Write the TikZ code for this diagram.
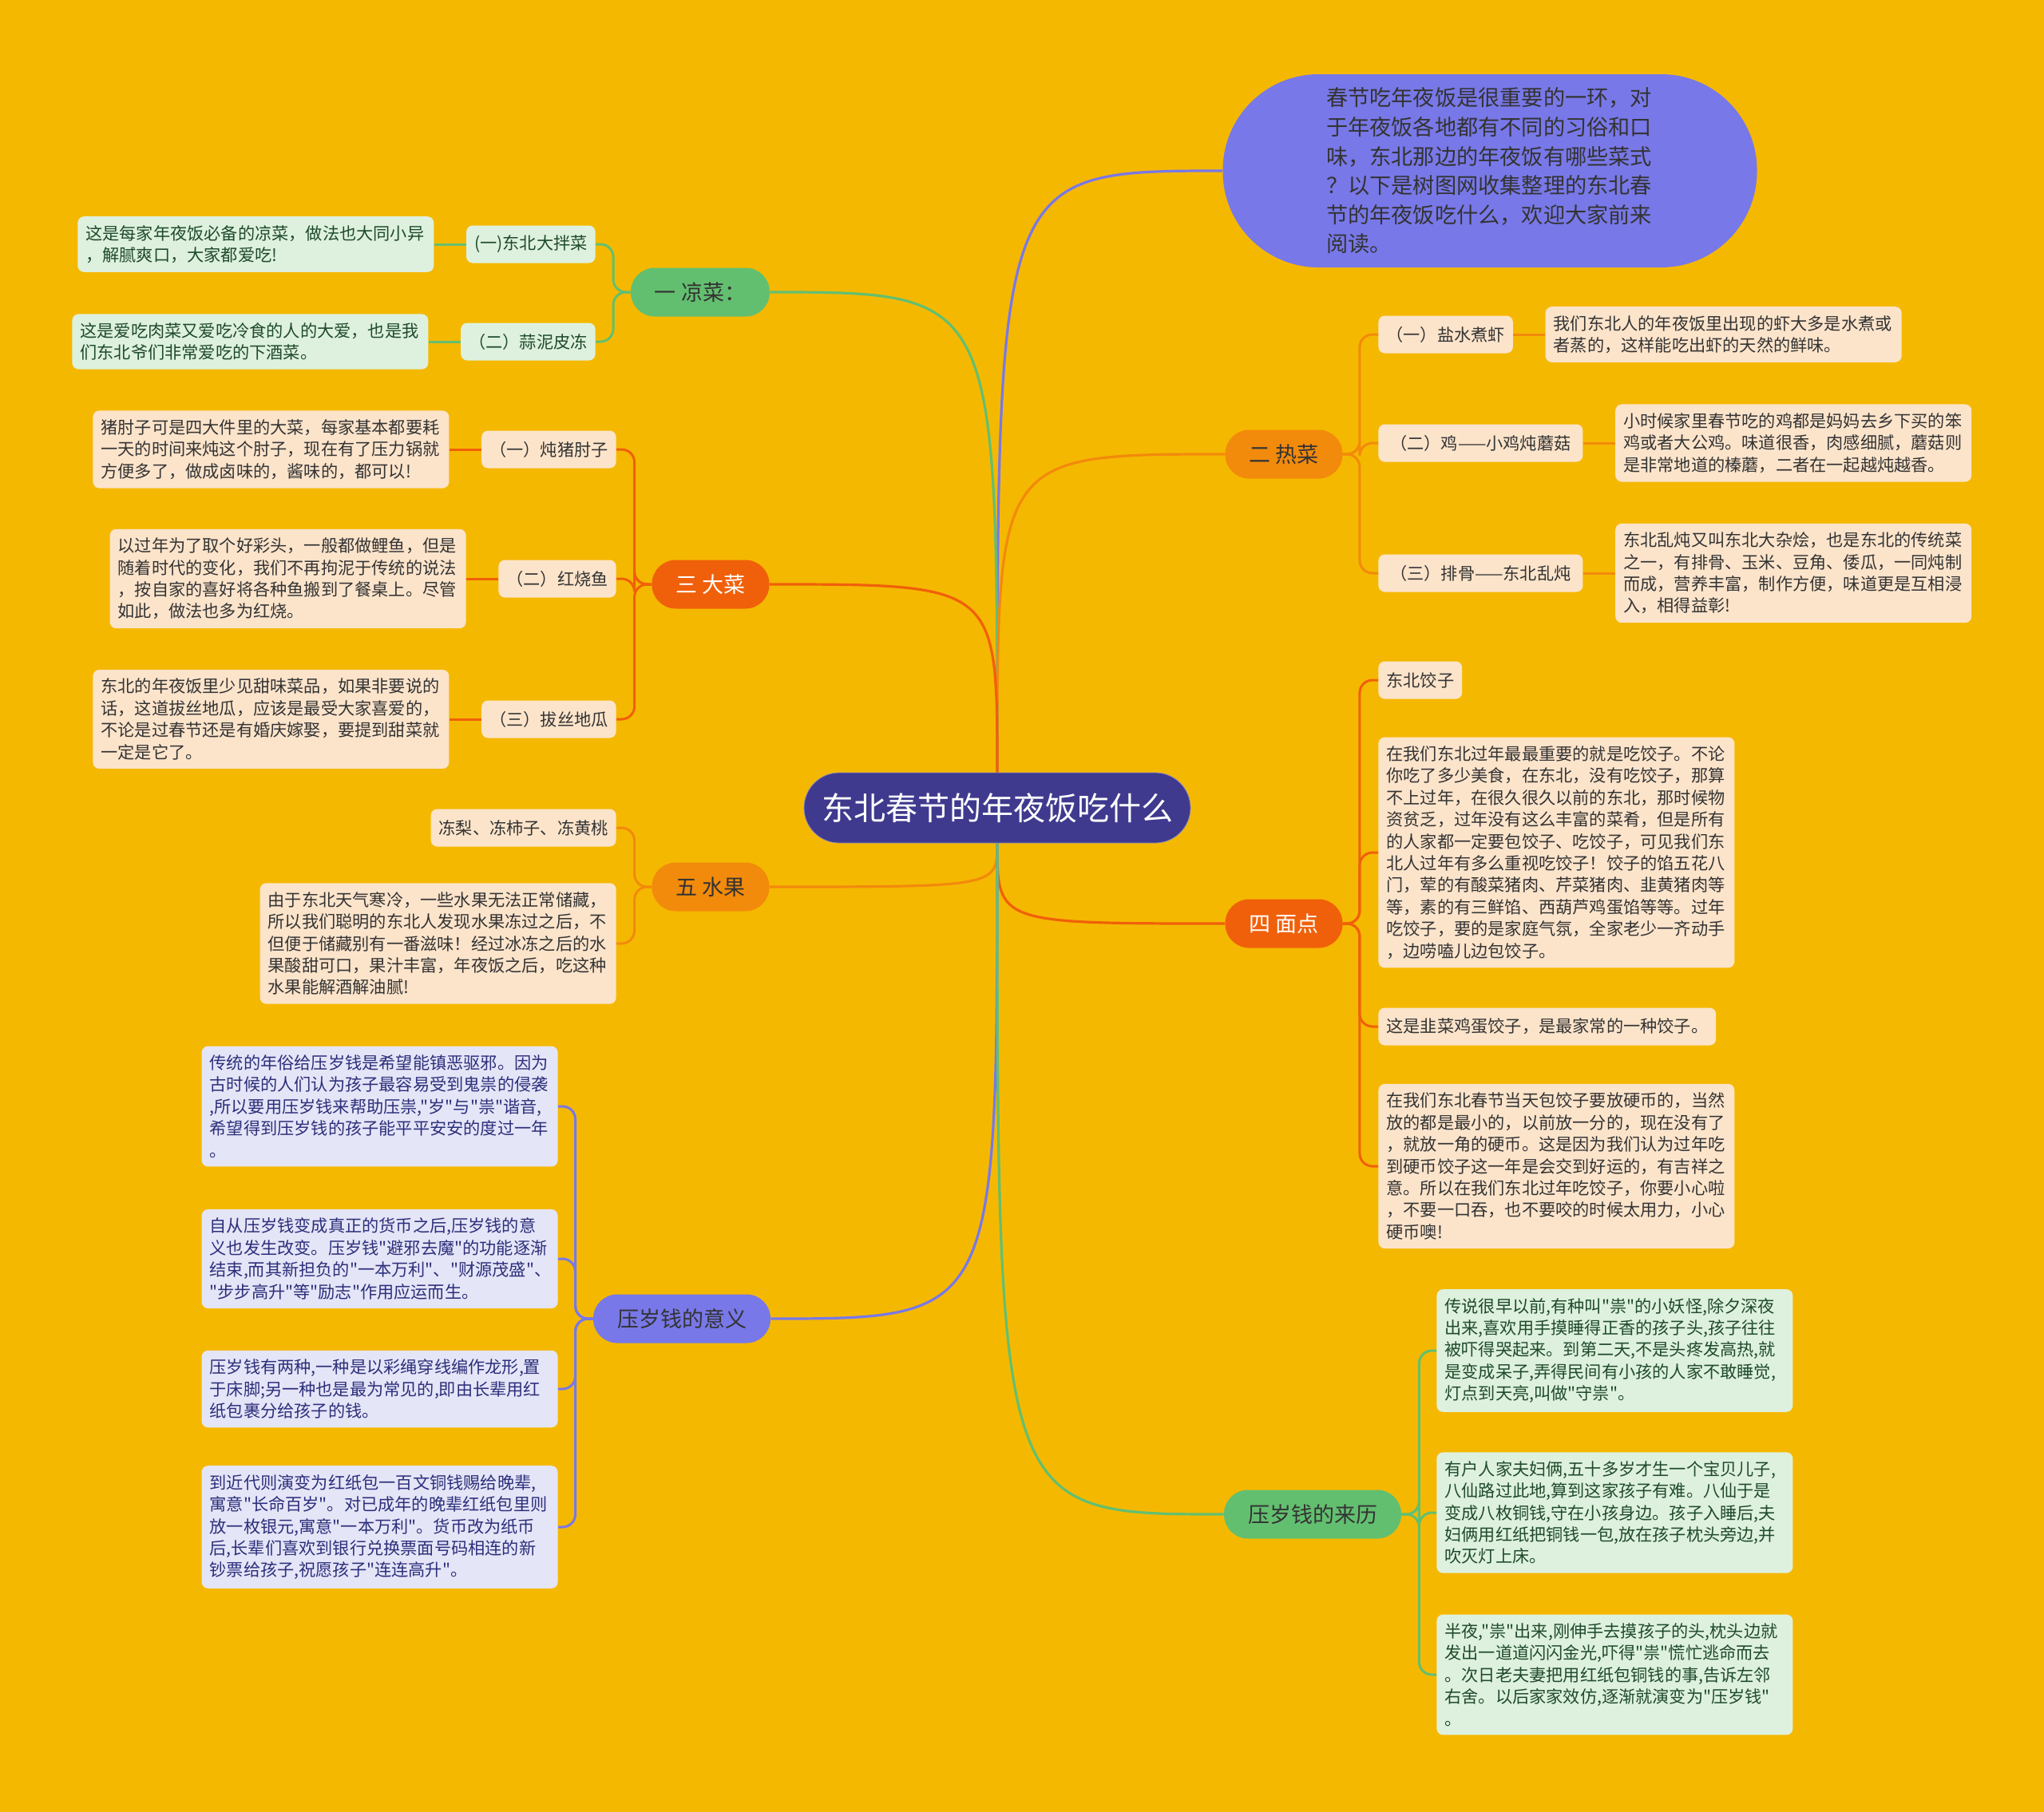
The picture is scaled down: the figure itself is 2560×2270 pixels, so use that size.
\documentclass[tikz,border=0pt]{standalone}
\usepackage{fontspec}
\setmainfont{Noto Sans CJK SC}[Ligatures=TeXOff]
\usetikzlibrary{positioning}
\definecolor{NyGold}{HTML}{F5B800}
\definecolor{NyIndigo}{HTML}{3F3A8E}
\definecolor{NyViolet}{HTML}{7878E8}
\definecolor{NyGreen}{HTML}{63BF70}
\definecolor{NyOrange}{HTML}{F28A0C}
\definecolor{NyRed}{HTML}{F0600A}
\definecolor{NyMint}{HTML}{DEF1DE}
\definecolor{NyPeach}{HTML}{FCE4CB}
\definecolor{NyLilac}{HTML}{E5E5F8}
\definecolor{NyInk}{HTML}{333333}
\definecolor{NyPine}{HTML}{1F4A2A}
\definecolor{NyNavy}{HTML}{2C2F7A}

\begin{document}
\begin{tikzpicture}[x=0.5pt,y=-0.5pt,
    branch/.style={rounded corners=15pt,minimum height=30.5pt,inner xsep=15pt,font=\fontsize{13.5}{16}\selectfont},
    item/.style={rounded corners=4pt,inner xsep=5pt,inner ysep=5.5pt,minimum height=23.5pt,font=\fontsize{10.6}{13.7}\selectfont},
    note/.style={item,text width=213pt,align=left},
    mint/.style={fill=NyMint,text=NyPine},
    peach/.style={fill=NyPeach,text=NyInk},
    lilac/.style={fill=NyLilac,text=NyNavy},
    trunk/.style={line width=1.6pt},
    twig/.style={line width=1.5pt,rounded corners=8pt},
    node distance=20pt]
  \fill[NyGold] (0,0) rectangle (2560,2270);
  \useasboundingbox (0,0) rectangle (2560,2270);

  \node[fill=NyIndigo,draw=NyIndigo!60!white,text=white,rounded corners=22pt,minimum width=242pt,minimum height=44pt,font=\fontsize{20}{24}\selectfont] (root) at (1249,1012) {东北春节的年夜饭吃什么};
  \node[fill=NyViolet,text=NyInk,rounded corners=60pt,minimum width=334.5pt,minimum height=121pt,text width=205pt,align=left,font=\fontsize{13.6}{18.3}\selectfont] (intro) at (1866,214) {春节吃年夜饭是很重要的一环，对\\于年夜饭各地都有不同的习俗和口\\味，东北那边的年夜饭有哪些菜式\\？以下是树图网收集整理的东北春\\节的年夜饭吃什么，欢迎大家前来\\阅读。};

  \node[branch,fill=NyGreen,text=NyInk] (liang) at (877,366) {一 凉菜：};
  \node[branch,fill=NyRed,text=white] (da) at (890,732) {三 大菜};
  \node[branch,fill=NyOrange,text=NyInk] (guo) at (890,1111) {五 水果};
  \node[branch,fill=NyViolet,text=NyInk] (yiyi) at (854,1652) {压岁钱的意义};
  \node[branch,fill=NyOrange,text=NyInk] (re) at (1608,569) {二 热菜};
  \node[branch,fill=NyRed,text=white] (mian) at (1608,1157) {四 面点};
  \node[branch,fill=NyGreen,text=NyInk] (laili) at (1644,1897) {压岁钱的来历};

  \draw[trunk,NyViolet] (root.north) .. controls (root.north |- intro.west) .. (intro.west);
  \draw[trunk,NyGreen] (root.north) .. controls (root.north |- liang.east) .. (liang.east);
  \draw[trunk,NyOrange] (root.north) .. controls (root.north |- re.west) .. (re.west);
  \draw[trunk,NyRed] (root.north) .. controls (root.north |- da.east) .. (da.east);
  \draw[trunk,NyOrange] (root.south) .. controls (root.south |- guo.east) .. (guo.east);
  \draw[trunk,NyRed] (root.south) .. controls (root.south |- mian.west) .. (mian.west);
  \draw[trunk,NyViolet] (root.south) .. controls (root.south |- yiyi.east) .. (yiyi.east);
  \draw[trunk,NyGreen] (root.south) .. controls (root.south |- laili.west) .. (laili.west);

  % 凉菜
  \node[item,mint,anchor=east] (c11) at (746,306) {(一)东北大拌菜};
  \node[item,mint,anchor=east] (c12) at (746,428) {（二）蒜泥皮冻};
  \node[note,mint,left=of c11] (l11) {这是每家年夜饭必备的凉菜，做法也大同小异\\，解腻爽口，大家都爱吃!};
  \node[note,mint,left=of c12] (l12) {这是爱吃肉菜又爱吃冷食的人的大爱，也是我\\们东北爷们非常爱吃的下酒菜。};
  \foreach \c in {c11,c12} \draw[twig,NyGreen] (liang.west) -- ++(-21.5,0) |- (\c.east);
  \draw[twig,NyGreen] (c11.west) -- (l11.east);
  \draw[twig,NyGreen] (c12.west) -- (l12.east);

  % 大菜
  \node[item,peach,anchor=east] (c21) at (772,563) {（一）炖猪肘子};
  \node[item,peach,anchor=east] (c22) at (772,725) {（二）红烧鱼};
  \node[item,peach,anchor=east] (c23) at (772,901) {（三）拔丝地瓜};
  \node[note,peach,left=of c21] (l21) {猪肘子可是四大件里的大菜，每家基本都要耗\\一天的时间来炖这个肘子，现在有了压力锅就\\方便多了，做成卤味的，酱味的，都可以!};
  \node[note,peach,left=of c22] (l22) {以过年为了取个好彩头，一般都做鲤鱼，但是\\随着时代的变化，我们不再拘泥于传统的说法\\，按自家的喜好将各种鱼搬到了餐桌上。尽管\\如此，做法也多为红烧。};
  \node[note,peach,left=of c23] (l23) {东北的年夜饭里少见甜味菜品，如果非要说的\\话，这道拔丝地瓜，应该是最受大家喜爱的，\\不论是过春节还是有婚庆嫁娶，要提到甜菜就\\一定是它了。};
  \foreach \c in {c21,c22,c23} \draw[twig,NyRed] (da.west) -- ++(-21.5,0) |- (\c.east);
  \draw[twig,NyRed] (c21.west) -- (l21.east);
  \draw[twig,NyRed] (c22.west) -- (l22.east);
  \draw[twig,NyRed] (c23.west) -- (l23.east);

  % 水果
  \node[item,peach,anchor=east] (c31) at (772,1037) {冻梨、冻柿子、冻黄桃};
  \node[note,peach,anchor=east] (c32) at (772,1182) {由于东北天气寒冷，一些水果无法正常储藏，\\所以我们聪明的东北人发现水果冻过之后，不\\但便于储藏别有一番滋味！经过冰冻之后的水\\果酸甜可口，果汁丰富，年夜饭之后，吃这种\\水果能解酒解油腻!};
  \foreach \c in {c31,c32} \draw[twig,NyOrange] (guo.west) -- ++(-21.5,0) |- (\c.east);

  % 压岁钱的意义
  \node[note,lilac,anchor=east] (c41) at (699,1386) {传统的年俗给压岁钱是希望能镇恶驱邪。因为\\古时候的人们认为孩子最容易受到鬼祟的侵袭\\,所以要用压岁钱来帮助压祟,"岁"与"祟"谐音,\\希望得到压岁钱的孩子能平平安安的度过一年\\。};
  \node[note,lilac,anchor=east] (c42) at (699,1577) {自从压岁钱变成真正的货币之后,压岁钱的意\\义也发生改变。压岁钱"避邪去魔"的功能逐渐\\结束,而其新担负的"一本万利"、"财源茂盛"、\\"步步高升"等"励志"作用应运而生。};
  \node[note,lilac,anchor=east] (c43) at (699,1740) {压岁钱有两种,一种是以彩绳穿线编作龙形,置\\于床脚;另一种也是最为常见的,即由长辈用红\\纸包裹分给孩子的钱。};
  \node[note,lilac,anchor=east] (c44) at (699,1913) {到近代则演变为红纸包一百文铜钱赐给晚辈,\\寓意"长命百岁"。对已成年的晚辈红纸包里则\\放一枚银元,寓意"一本万利"。货币改为纸币\\后,长辈们喜欢到银行兑换票面号码相连的新\\钞票给孩子,祝愿孩子"连连高升"。};
  \foreach \c in {c41,c42,c43,c44} \draw[twig,NyViolet] (yiyi.west) -- ++(-22,0) |- (\c.east);

  % 热菜
  \node[item,peach,anchor=west] (c51) at (1726,419) {（一）盐水煮虾};
  \node[item,peach,anchor=west,minimum width=128pt] (c52) at (1726,555) {（二）鸡——小鸡炖蘑菇};
  \node[item,peach,anchor=west,minimum width=128pt] (c53) at (1726,718) {（三）排骨——东北乱炖};
  \node[note,peach,right=of c51] (l51) {我们东北人的年夜饭里出现的虾大多是水煮或\\者蒸的，这样能吃出虾的天然的鲜味。};
  \node[note,peach,right=of c52] (l52) {小时候家里春节吃的鸡都是妈妈去乡下买的笨\\鸡或者大公鸡。味道很香，肉感细腻，蘑菇则\\是非常地道的榛蘑，二者在一起越炖越香。};
  \node[note,peach,right=of c53] (l53) {东北乱炖又叫东北大杂烩，也是东北的传统菜\\之一，有排骨、玉米、豆角、倭瓜，一同炖制\\而成，营养丰富，制作方便，味道更是互相浸\\入，相得益彰!};
  \foreach \c in {c51,c52,c53} \draw[twig,NyOrange] (re.east) -- ++(21,0) |- (\c.west);
  \draw[twig,NyOrange] (c51.east) -- (l51.west);
  \draw[twig,NyOrange] (c52.east) -- (l52.west);
  \draw[twig,NyOrange] (c53.east) -- (l53.west);

  % 面点
  \node[item,peach,anchor=west] (c61) at (1726,852) {东北饺子};
  \node[note,peach,anchor=west] (c62) at (1726,1068) {在我们东北过年最最重要的就是吃饺子。不论\\你吃了多少美食，在东北，没有吃饺子，那算\\不上过年，在很久很久以前的东北，那时候物\\资贫乏，过年没有这么丰富的菜肴，但是所有\\的人家都一定要包饺子、吃饺子，可见我们东\\北人过年有多么重视吃饺子！饺子的馅五花八\\门，荤的有酸菜猪肉、芹菜猪肉、韭黄猪肉等\\等，素的有三鲜馅、西葫芦鸡蛋馅等等。过年\\吃饺子，要的是家庭气氛，全家老少一齐动手\\，边唠嗑儿边包饺子。};
  \node[item,peach,anchor=west] (c63) at (1726,1286) {这是韭菜鸡蛋饺子，是最家常的一种饺子。};
  \node[note,peach,anchor=west] (c64) at (1726,1461) {在我们东北春节当天包饺子要放硬币的，当然\\放的都是最小的，以前放一分的，现在没有了\\，就放一角的硬币。这是因为我们认为过年吃\\到硬币饺子这一年是会交到好运的，有吉祥之\\意。所以在我们东北过年吃饺子，你要小心啦\\，不要一口吞，也不要咬的时候太用力，小心\\硬币噢!};
  \foreach \c in {c61,c62,c63,c64} \draw[twig,NyRed] (mian.east) -- ++(21,0) |- (\c.west);

  % 压岁钱的来历
  \node[note,mint,anchor=west] (c71) at (1799,1692) {传说很早以前,有种叫"祟"的小妖怪,除夕深夜\\出来,喜欢用手摸睡得正香的孩子头,孩子往往\\被吓得哭起来。到第二天,不是头疼发高热,就\\是变成呆子,弄得民间有小孩的人家不敢睡觉,\\灯点到天亮,叫做"守祟"。};
  \node[note,mint,anchor=west] (c72) at (1799,1895) {有户人家夫妇俩,五十多岁才生一个宝贝儿子,\\八仙路过此地,算到这家孩子有难。八仙于是\\变成八枚铜钱,守在小孩身边。孩子入睡后,夫\\妇俩用红纸把铜钱一包,放在孩子枕头旁边,并\\吹灭灯上床。};
  \node[note,mint,anchor=west] (c73) at (1799,2098) {半夜,"祟"出来,刚伸手去摸孩子的头,枕头边就\\发出一道道闪闪金光,吓得"祟"慌忙逃命而去\\。次日老夫妻把用红纸包铜钱的事,告诉左邻\\右舍。以后家家效仿,逐渐就演变为"压岁钱"\\。};
  \foreach \c in {c71,c72,c73} \draw[twig,NyGreen] (laili.east) -- ++(22,0) |- (\c.west);
\end{tikzpicture}
\end{document}
